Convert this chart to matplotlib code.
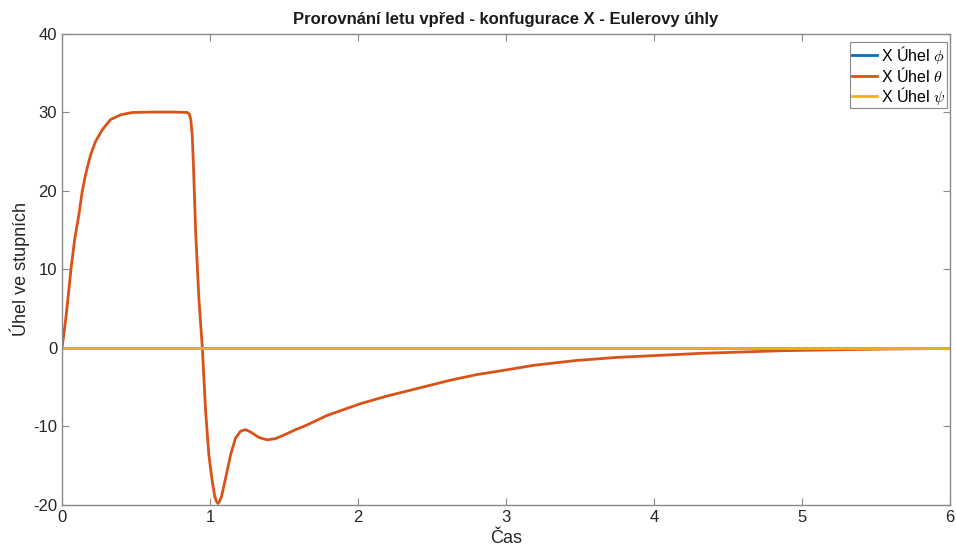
import numpy as np
import matplotlib.pyplot as plt

plt.rcParams['font.family'] = ['Liberation Sans', 'DejaVu Sans']
plt.rcParams['mathtext.fontset'] = 'cm'
plt.rcParams['axes.unicode_minus'] = False

# time [s] and pitch angle theta [deg]
cas = [0.0, 0.015, 0.027, 0.045, 0.06, 0.085, 0.114, 0.136, 0.159, 0.193,
       0.226, 0.272, 0.328, 0.395, 0.474, 0.6, 0.75, 0.848, 0.86, 0.87,
       0.88, 0.888, 0.903, 0.925, 0.948, 0.97, 0.992, 1.015, 1.032, 1.045,
       1.053, 1.063, 1.078, 1.105, 1.139, 1.172, 1.206, 1.24, 1.274, 1.33,
       1.386, 1.443, 1.51, 1.578, 1.645, 1.79, 2.016, 2.2, 2.35, 2.625,
       2.8, 3.0, 3.19, 3.47, 3.75, 4.32, 4.88, 5.5, 6.0]
theta = [0.0, 2.2, 4.0, 7.2, 10.0, 13.8, 17.0, 19.9, 22.1, 24.6,
         26.3, 27.8, 29.1, 29.7, 30.0, 30.05, 30.05, 30.0, 29.8, 29.1,
         27.0, 23.2, 14.7, 6.2, 0.0, -8.0, -13.6, -17.0, -18.9, -19.6,
         -19.8, -19.6, -18.9, -16.6, -13.6, -11.5, -10.6, -10.4, -10.7, -11.4,
         -11.7, -11.55, -11.0, -10.4, -9.9, -8.6, -7.1, -6.1, -5.4, -4.1,
         -3.4, -2.8, -2.2, -1.6, -1.2, -0.68, -0.34, -0.15, -0.05]
phi = [0.0, 0.0]
psi = [0.0, 0.0]
cas_flat = [0.0, 6.0]

xticks = [0, 1, 2, 3, 4, 5, 6]
yticks = [-20, -10, 0, 10, 20, 30, 40]

fig = plt.figure(figsize=(9.56, 5.48), dpi=100)
ax = fig.add_axes([0.0649, 0.0785, 0.9288, 0.8595])

ax.plot(cas_flat, phi, color='#0072BD', lw=2, label=r'X Úhel $\phi$')
ax.plot(cas, theta, color='#D95319', lw=2, label=r'X Úhel $\theta$')
ax.plot(cas_flat, psi, color='#EDB120', lw=2, label=r'X Úhel $\psi$')

ax.set_xlim(0, 6)
ax.set_ylim(-20, 40)
ax.set_xticks(xticks)
ax.set_yticks(yticks)

grey = '#8a8a8a'
for s in ax.spines.values():
    s.set_color(grey)
    s.set_linewidth(1)
ax.tick_params(direction='in', top=True, right=True, length=5, color=grey,
               labelcolor='#262626', labelsize=12)

ax.set_title('Prorovnání letu vpřed - konfugurace X - Eulerovy úhly',
             fontsize=12, fontweight='bold', color='#1a1a1a', pad=7)
ax.set_xlabel('Čas', fontsize=13, color='#262626', labelpad=4)
ax.set_ylabel('Úhel ve stupních', fontsize=13, color='#262626', labelpad=2)

leg = ax.legend(loc='upper right', bbox_to_anchor=(0.9965, 0.983), fontsize=11.5,
                handlelength=1.6, handletextpad=0.2, borderpad=0.1,
                labelspacing=0.0, fancybox=False, framealpha=1, borderaxespad=0)
leg.get_frame().set_edgecolor(grey)
leg.get_frame().set_linewidth(0.8)

fig.savefig('out.png', dpi=100)
